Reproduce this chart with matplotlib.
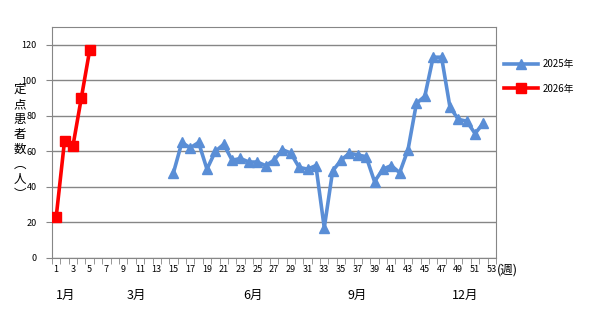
import numpy as np
import matplotlib.pyplot as plt

plt.rcParams['font.family'] = ['Noto Sans CJK JP', 'DejaVu Sans']

weeks_2025 = list(range(15, 53))
vals_2025 = [48, 65, 62, 65, 50, 60, 64, 55, 56, 54, 54, 52, 55, 61, 59, 51,
             50, 52, 17, 49, 55, 59, 58, 57, 43, 50, 52, 48, 61, 87, 91, 113,
             113, 85, 78, 77, 70, 76]
weeks_2026 = [1, 2, 3, 4, 5]
vals_2026 = [23, 66, 63, 90, 117]

month_labels = ['1月', '3月', '6月', '9月', '12月']
month_pos = [2.1, 10.6, 24.5, 36.9, 49.8]

blue = '#5A8ED6'
red = '#FF0000'
grey = '#868686'

fig = plt.figure(figsize=(6.08, 3.12), dpi=100)
ax = fig.add_axes([0.0855, 0.1731, 0.7303, 0.7404])

ax.plot(weeks_2025, vals_2025, color=blue, lw=2.6, marker='^', ms=6.5,
        label='2025年', zorder=3)
ax.plot(weeks_2026, vals_2026, color=red, lw=2.6, marker='s', ms=6.5,
        label='2026年', zorder=4)

ax.set_xlim(0.5, 53.5)
ax.set_ylim(0, 130)
ax.set_yticks(np.arange(0, 121, 20))
ax.set_xticks(range(1, 54, 2))
ax.set_xticks(np.arange(0.5, 53.6, 1), minor=True)
ax.tick_params(axis='x', which='major', length=0, labelsize=6.5, pad=5)
ax.tick_params(axis='x', which='minor', length=4, color=grey)
ax.tick_params(axis='y', length=4, color=grey, labelsize=6.5, pad=7)
ax.yaxis.grid(True, color=grey, lw=1)
ax.set_axisbelow(True)
for s in ax.spines.values():
    s.set_color(grey)

for lab, p in zip(month_labels, month_pos):
    ax.text(p, -0.16, lab, transform=ax.get_xaxis_transform(),
            ha='center', va='center', fontsize=9)

ax.text(53.6, -0.05, '(週)', transform=ax.get_xaxis_transform(),
        ha='left', va='center', fontsize=9)

ylab = '定点患者数︵人︶'
fig.text(0.032, 0.545, '\n'.join(ylab), ha='center', va='center',
         fontsize=9, linespacing=1.2)

leg = fig.legend(loc='upper left', bbox_to_anchor=(0.815, 0.838), frameon=False,
                 fontsize=7, handlelength=3.5, labelspacing=1.5, handletextpad=0.4)

fig.savefig('out.png', dpi=100)
